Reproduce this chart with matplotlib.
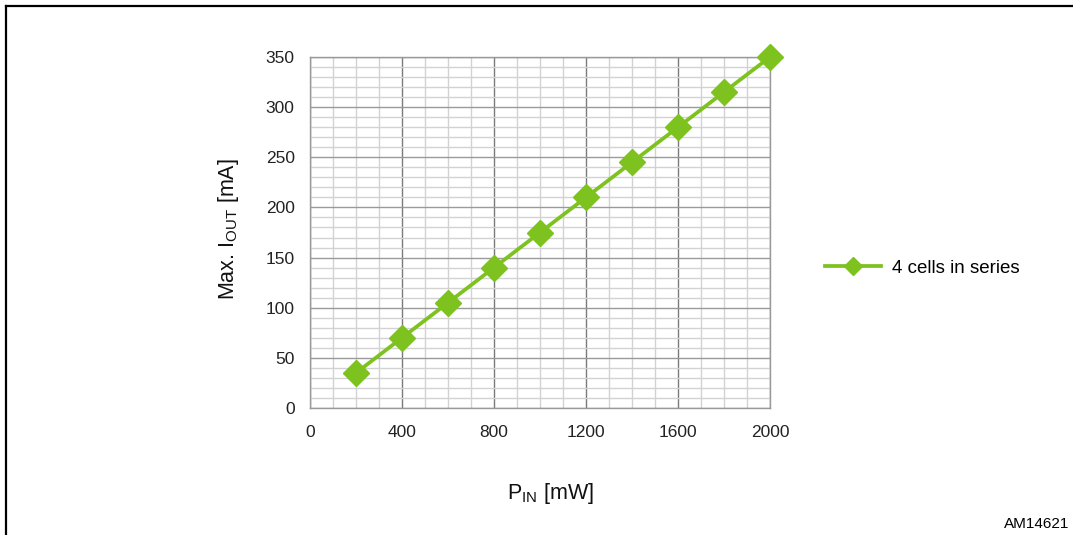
import matplotlib
matplotlib.use("Agg")
from matplotlib import pyplot as plt
from matplotlib.lines import Line2D
import numpy as np

# data
p_in = [200, 400, 600, 800, 1000, 1200, 1400, 1600, 1800, 2000]
i_out = [35, 70, 105, 140, 175, 210, 245, 280, 315, 350]
series_name = "4 cells in series"
x_ticks = [0, 400, 800, 1200, 1600, 2000]
y_ticks = [0, 50, 100, 150, 200, 250, 300, 350]

green = "#7DC21E"

plt.rcParams['font.family'] = ['Liberation Sans', 'DejaVu Sans']
plt.rcParams['mathtext.fontset'] = 'custom'
plt.rcParams['mathtext.rm'] = 'Liberation Sans'

fig = plt.figure(figsize=(10.73, 5.35), dpi=100)
ax = fig.add_axes([310 / 1073, 1 - 408 / 535, 460 / 1073, 351 / 535])

ax.set_xlim(0, 2000)
ax.set_ylim(0, 350)
ax.set_xticks(x_ticks)
ax.set_yticks(y_ticks)
ax.set_xticks(np.arange(0, 2001, 100), minor=True)
ax.set_yticks(np.arange(0, 351, 10), minor=True)
ax.grid(which='minor', color='#d2d2d2', linewidth=1.0)
ax.grid(which='major', axis='x', color='#7a7a7a', linewidth=1.0)
ax.grid(which='major', axis='y', color='#9a9a9a', linewidth=1.0)
ax.set_axisbelow(True)
ax.tick_params(which='both', length=0)
ax.tick_params(axis='y', pad=11, labelsize=12.5, labelcolor='#222222')
ax.tick_params(axis='x', pad=12, labelsize=12.5, labelcolor='#222222')
for s in ax.spines.values():
    s.set_color('#999999')
    s.set_linewidth(1.0)

ax.plot(p_in, i_out, color=green, linewidth=2.7, marker='D', markersize=13,
        label=series_name, clip_on=False, zorder=5)

ax.set_ylabel(r"Max. I$_\mathregular{OUT}$ [mA]", fontsize=15.5, color='#111111')
ax.yaxis.set_label_coords(-0.15, 0.51)
ax.set_xlabel(r"P$_\mathregular{IN}$ [mW]", fontsize=15.5, color='#111111')
ax.xaxis.set_label_coords(0.522, -0.208)

fig.legend(loc='center left', bbox_to_anchor=(825 / 1073, 1 - 268 / 535),
           frameon=False, fontsize=13.5, handlelength=3.0, handletextpad=0.6,
           borderpad=0, borderaxespad=0, markerscale=0.72)

fig.text(1069 / 1073, 1 - 524 / 535, "AM14621", ha='right', va='center', fontsize=11)

# frame around the figure (only top and left visible in the crop)
fig.add_artist(Line2D([6 / 1073, 1.0], [1 - 6 / 535, 1 - 6 / 535], color='black', linewidth=1.6,
                      transform=fig.transFigure))
fig.add_artist(Line2D([6 / 1073, 6 / 1073], [1 - 6 / 535, 0.0], color='black', linewidth=1.6,
                      transform=fig.transFigure))

fig.savefig("out.png", dpi=100)
